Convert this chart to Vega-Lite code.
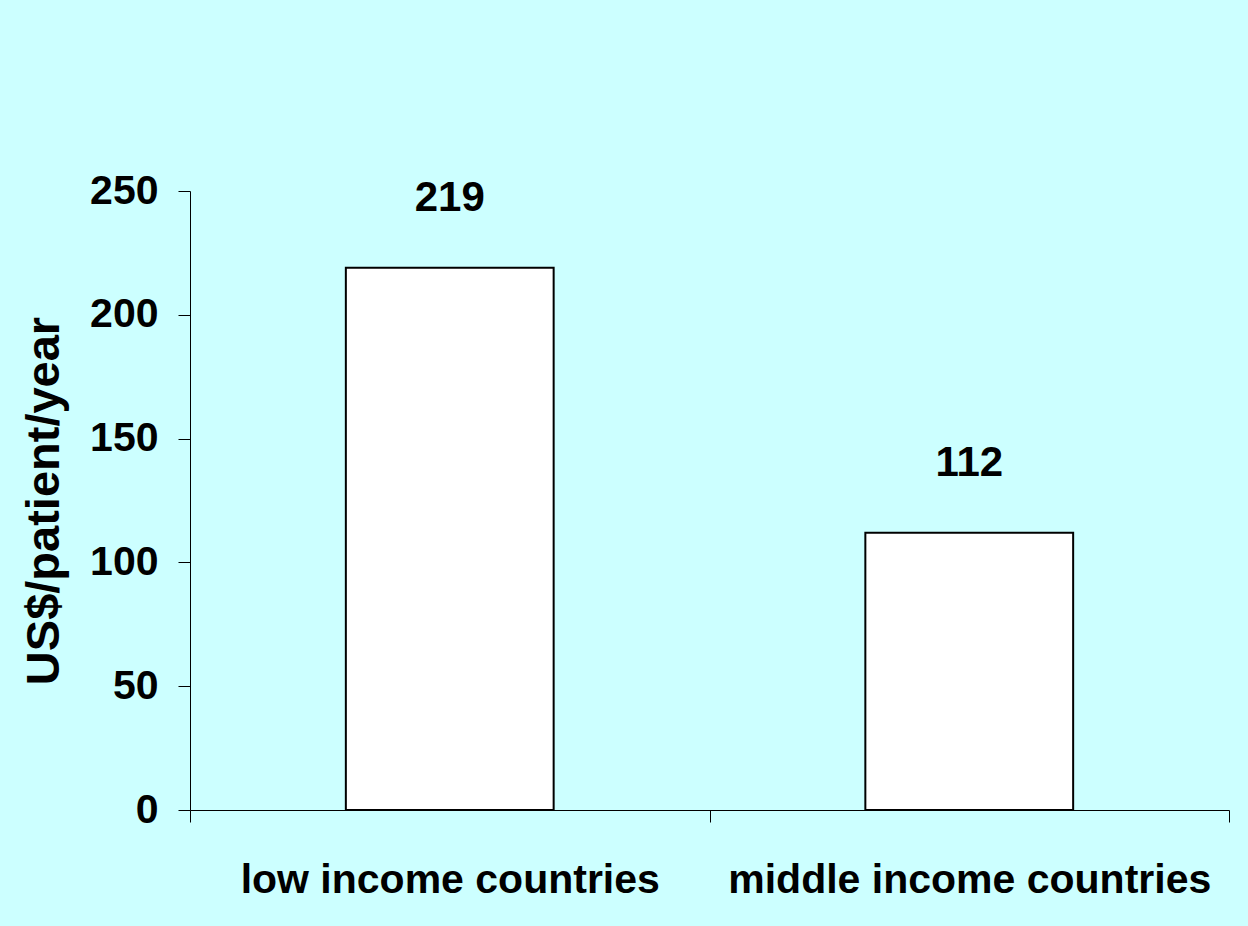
{
  "$schema": "https://vega.github.io/schema/vega-lite/v6.json",
  "width": 1039,
  "height": 619,
  "autosize": {"type": "none"},
  "padding": {"left": 190, "top": 191, "right": 19, "bottom": 116},
  "background": "#CCFFFF",
  "config": {
    "view": {"stroke": null},
    "font": "Liberation Sans",
    "axis": {
      "domainColor": "#000000",
      "domainWidth": 1,
      "tickColor": "#000000",
      "tickWidth": 1,
      "tickSize": 12,
      "grid": false,
      "labelColor": "#000000",
      "labelFont": "Liberation Sans",
      "labelFontWeight": "bold",
      "titleFont": "Liberation Sans",
      "titleFontWeight": "bold",
      "titleColor": "#000000"
    }
  },
  "data": {
    "values": [
      {"group": "low income countries", "value": 219},
      {"group": "middle income countries", "value": 112}
    ]
  },
  "encoding": {
    "x": {
      "field": "group",
      "type": "nominal",
      "sort": null,
      "scale": {"paddingInner": 0, "paddingOuter": 0},
      "axis": {
        "title": null,
        "labelAngle": 0,
        "labelFontSize": 41,
        "labelLimit": 0,
        "labelPadding": 38,
        "tickBand": "extent"
      }
    },
    "y": {
      "field": "value",
      "type": "quantitative",
      "scale": {"domain": [0, 250], "nice": false},
      "axis": {
        "title": "US$/patient/year",
        "values": [0, 50, 100, 150, 200, 250],
        "labelFontSize": 41,
        "labelPadding": 20,
        "titleFontSize": 47,
        "titleAngle": -90,
        "titleAlign": "center",
        "titleBaseline": "middle",
        "titleX": -146,
        "titleY": 309.5
      }
    }
  },
  "layer": [
    {
      "mark": {"type": "bar", "fill": "#FFFFFF", "stroke": "#000000", "strokeWidth": 2, "width": {"band": 0.4}}
    },
    {
      "mark": {"type": "text", "fontSize": 42, "fontWeight": "bold", "baseline": "bottom", "dy": -48, "color": "#000000", "font": "Liberation Sans"},
      "encoding": {"text": {"field": "value", "type": "quantitative"}}
    }
  ]
}
